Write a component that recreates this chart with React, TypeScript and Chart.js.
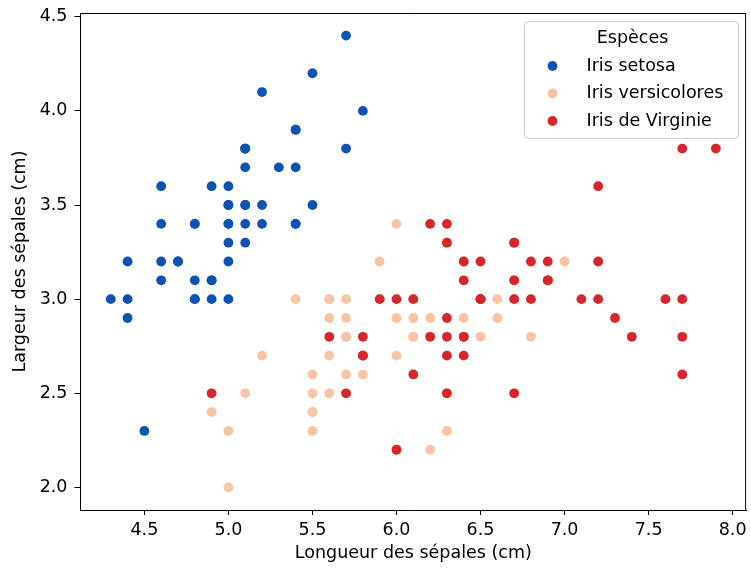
import React, { useEffect, useRef } from "react";
import { Chart, registerables } from "chart.js";

Chart.register(...registerables);

const speciesNames = ["Iris setosa", "Iris versicolores", "Iris de Virginie"];
const speciesColors = ["#0e52b4", "#f8c4a4", "#d6262a"];

const setosaLength = [5.1,4.9,4.7,4.6,5.0,5.4,4.6,5.0,4.4,4.9,5.4,4.8,4.8,4.3,5.8,5.7,5.4,5.1,5.7,5.1,5.4,5.1,4.6,5.1,4.8,5.0,5.0,5.2,5.2,4.7,4.8,5.4,5.2,5.5,4.9,5.0,5.5,4.9,4.4,5.1,5.0,4.5,4.4,5.0,5.1,4.8,5.1,4.6,5.3,5.0];
const setosaWidth = [3.5,3.0,3.2,3.1,3.6,3.9,3.4,3.4,2.9,3.1,3.7,3.4,3.0,3.0,4.0,4.4,3.9,3.5,3.8,3.8,3.4,3.7,3.6,3.3,3.4,3.0,3.4,3.5,3.4,3.2,3.1,3.4,4.1,4.2,3.1,3.2,3.5,3.6,3.0,3.4,3.5,2.3,3.2,3.5,3.8,3.0,3.8,3.2,3.7,3.3];

const versicolorLength = [7.0,6.4,6.9,5.5,6.5,5.7,6.3,4.9,6.6,5.2,5.0,5.9,6.0,6.1,5.6,6.7,5.6,5.8,6.2,5.6,5.9,6.1,6.3,6.1,6.4,6.6,6.8,6.7,6.0,5.7,5.5,5.5,5.8,6.0,5.4,6.0,6.7,6.3,5.6,5.5,5.5,6.1,5.8,5.0,5.6,5.7,5.7,6.2,5.1,5.7];
const versicolorWidth = [3.2,3.2,3.1,2.3,2.8,2.8,3.3,2.4,2.9,2.7,2.0,3.0,2.2,2.9,2.9,3.1,3.0,2.7,2.2,2.5,3.2,2.8,2.5,2.8,2.9,3.0,2.8,3.0,2.9,2.6,2.4,2.4,2.7,2.7,3.0,3.4,3.1,2.3,3.0,2.5,2.6,3.0,2.6,2.3,2.7,3.0,2.9,2.9,2.5,2.8];

const virginicaLength = [6.3,5.8,7.1,6.3,6.5,7.6,4.9,7.3,6.7,7.2,6.5,6.4,6.8,5.7,5.8,6.4,6.5,7.7,7.7,6.0,6.9,5.6,7.7,6.3,6.7,7.2,6.2,6.1,6.4,7.2,7.4,7.9,6.4,6.3,6.1,7.7,6.3,6.4,6.0,6.9,6.7,6.9,5.8,6.8,6.7,6.7,6.3,6.5,6.2,5.9];
const virginicaWidth = [3.3,2.7,3.0,2.9,3.0,3.0,2.5,2.9,2.5,3.6,3.2,2.7,3.0,2.5,2.8,3.2,3.0,3.8,2.6,2.2,3.2,2.8,2.8,2.7,3.3,3.2,2.8,3.0,2.8,3.0,2.8,3.8,2.8,2.8,2.6,3.0,3.4,3.1,3.0,3.1,3.1,3.1,2.7,3.2,3.3,3.0,2.5,3.0,3.4,3.0];

const xTicks = [4.5, 5.0, 5.5, 6.0, 6.5, 7.0, 7.5, 8.0];
const yTicks = [2.0, 2.5, 3.0, 3.5, 4.0, 4.5];

const xTitle = "Longueur des sépales (cm)";
const yTitle = "Largeur des sépales (cm)";
const legendTitle = "Espèces";

const FONT = "DejaVu Sans";
const FS = 17.5;

function pts(xs: number[], ys: number[]) {
  return xs.map((x, i) => ({ x, y: ys[i] }));
}

const legendPlugin = {
  id: "mplLegend",
  afterDraw(chart: any) {
    const ctx = chart.ctx as CanvasRenderingContext2D;
    ctx.save();
    const w = 214;
    const h = 117;
    const x0 = 524.5;
    const y0 = 21.5;
    const r = 4;
    ctx.beginPath();
    ctx.moveTo(x0 + r, y0);
    ctx.lineTo(x0 + w - r, y0);
    ctx.arcTo(x0 + w, y0, x0 + w, y0 + r, r);
    ctx.lineTo(x0 + w, y0 + h - r);
    ctx.arcTo(x0 + w, y0 + h, x0 + w - r, y0 + h, r);
    ctx.lineTo(x0 + r, y0 + h);
    ctx.arcTo(x0, y0 + h, x0, y0 + h - r, r);
    ctx.lineTo(x0, y0 + r);
    ctx.arcTo(x0, y0, x0 + r, y0, r);
    ctx.closePath();
    ctx.fillStyle = "rgba(255,255,255,0.8)";
    ctx.fill();
    ctx.strokeStyle = "#cccccc";
    ctx.lineWidth = 1;
    ctx.stroke();

    ctx.font = `${FS}px "${FONT}"`;
    ctx.fillStyle = "#000";
    ctx.textBaseline = "middle";
    ctx.textAlign = "center";
    ctx.fillText(legendTitle, x0 + w / 2 + 1, y0 + 17);
    ctx.textAlign = "left";
    speciesNames.forEach((name, i) => {
      const cy = y0 + 44.5 + i * 27.5;
      ctx.beginPath();
      ctx.arc(x0 + 28, cy, 4.9, 0, Math.PI * 2);
      ctx.fillStyle = speciesColors[i];
      ctx.fill();
      ctx.fillStyle = "#000";
      ctx.fillText(name, x0 + 62, cy);
    });
    ctx.restore();
  },
};

export default function App() {
  const ref = useRef<HTMLCanvasElement | null>(null);

  useEffect(() => {
    document.body.style.margin = "0";
    const canvas = ref.current;
    if (!canvas) return;
    const xs = [setosaLength, versicolorLength, virginicaLength];
    const ys = [setosaWidth, versicolorWidth, virginicaWidth];
    const chart = new Chart(canvas, {
      type: "scatter",
      data: {
        datasets: speciesNames.map((name, i) => ({
          label: name,
          data: pts(xs[i], ys[i]),
          backgroundColor: speciesColors[i],
          borderColor: speciesColors[i],
          borderWidth: 0,
          pointRadius: 4.9,
          pointHoverRadius: 4.9,
          order: 3 - i,
        })),
      },
      options: {
        animation: false,
        responsive: false,
        devicePixelRatio: 1,
        layout: { padding: { top: 13, right: 4, left: 0, bottom: 0 } },
        plugins: {
          legend: { display: false },
          tooltip: { enabled: false },
        },
        scales: {
          x: {
            type: "linear",
            min: 4.12,
            max: 8.08,
            afterBuildTicks: (s: any) => {
              s.ticks = xTicks.map((v) => ({ value: v }));
            },
            afterFit: (s: any) => {
              s.height = 62;
              s.paddingLeft = 0;
              s.paddingRight = 0;
            },
            ticks: {
              color: "#000",
              font: { family: FONT, size: FS },
              padding: 5,
              maxRotation: 0,
              autoSkip: false,
              callback: (v: any) => Number(v).toFixed(1),
            },
            grid: {
              display: true,
              drawOnChartArea: false,
              drawTicks: true,
              tickLength: 5,
              tickColor: "#000",
              tickWidth: 1,
            },
            border: { display: true, color: "#000", width: 1 },
            title: {
              display: true,
              text: xTitle,
              color: "#000",
              font: { family: FONT, size: FS },
              padding: { top: 0, bottom: 8.5 },
            },
          },
          y: {
            type: "linear",
            min: 1.88,
            max: 4.52,
            afterBuildTicks: (s: any) => {
              s.ticks = yTicks.map((v) => ({ value: v }));
            },
            afterFit: (s: any) => {
              s.width = 80.5;
              s.paddingTop = 0;
              s.paddingBottom = 0;
            },
            ticks: {
              color: "#000",
              font: { family: FONT, size: FS },
              padding: 7,
              autoSkip: false,
              callback: (v: any) => Number(v).toFixed(1),
            },
            grid: {
              display: true,
              drawOnChartArea: false,
              drawTicks: true,
              tickLength: 6,
              tickColor: "#000",
              tickWidth: 1,
            },
            border: { display: true, color: "#000", width: 1 },
            title: {
              display: true,
              text: yTitle,
              color: "#000",
              font: { family: FONT, size: FS },
              padding: { top: 9.5, bottom: 0 },
            },
          },
        },
      },
      plugins: [
        legendPlugin,
        {
          id: "frame",
          afterDatasetsDraw(chart: any) {
            const { ctx, chartArea: ca } = chart;
            ctx.save();
            ctx.strokeStyle = "#000";
            ctx.lineWidth = 1;
            ctx.beginPath();
            ctx.moveTo(ca.left, ca.top + 0.5);
            ctx.lineTo(ca.right, ca.top + 0.5);
            ctx.moveTo(ca.right - 0.5, ca.top);
            ctx.lineTo(ca.right - 0.5, ca.bottom);
            ctx.stroke();
            ctx.restore();
          },
        },
      ],
    } as any);
    return () => chart.destroy();
  }, []);

  return <canvas ref={ref} width={751} height={572} style={{ display: "block" }} />;
}
